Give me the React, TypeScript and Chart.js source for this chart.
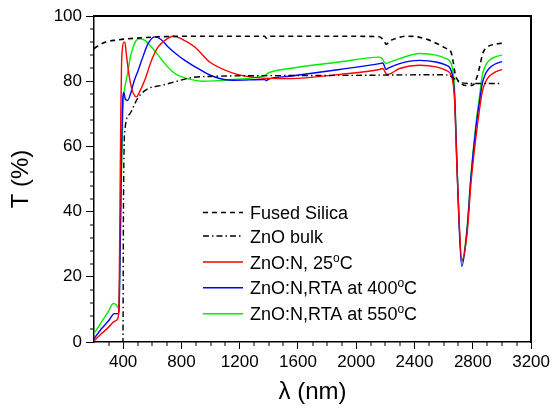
import React, { useEffect, useRef } from 'react';
import { Chart, registerables } from 'chart.js';
Chart.register(...registerables);

const FONT = "'Liberation Sans', Arial, sans-serif";

const xTicks = [400, 800, 1200, 1600, 2000, 2400, 2800, 3200];
const yTicks = [0, 20, 40, 60, 80, 100];
const xMinorTicks = [300, 500, 600, 700, 900, 1000, 1100, 1300, 1400, 1500, 1700, 1800, 1900, 2100, 2200, 2300, 2500, 2600, 2700, 2900, 3000, 3100];
const yMinorTicks = [4, 8, 12, 16, 24, 28, 32, 36, 44, 48, 52, 56, 64, 68, 72, 76, 84, 88, 92, 96];

const seriesLabels = ['Fused Silica', 'ZnO bulk', 'ZnO:N, 25°C', 'ZnO:N,RTA at 400°C', 'ZnO:N,RTA at 550°C'];

const silicaX = [200, 240, 280, 350, 430, 600, 800, 1000, 1370, 1383, 1396, 1800, 2150, 2190, 2205, 2230, 2280, 2340, 2420, 2500, 2560, 2620, 2650, 2665, 2680, 2708, 2754, 2800, 2830, 2850, 2868, 2900, 2950, 3000];
const silicaY = [90, 91.2, 92, 92.6, 93, 93.5, 93.8, 93.8, 93.8, 93.2, 93.8, 93.8, 93.7, 92.5, 91.3, 92.3, 93.2, 93.8, 93.6, 92.6, 91.4, 90, 89, 86, 82, 79.8, 78.7, 78.8, 81.5, 85, 88.5, 90.5, 91.3, 91.7];

const bulkX = [200, 399, 401, 405, 412, 446, 503, 571, 663, 754, 869, 1029, 1400, 2000, 2600, 2650, 2680, 2720, 2800, 3000];
const bulkY = [0, 0, 30, 55, 65, 70, 75, 77.7, 78.7, 79.8, 81.1, 81.5, 81.7, 81.8, 82, 81.5, 80.5, 79.5, 79.3, 79.3];

const redX = [200, 250, 300, 332, 355, 366, 372, 378, 384, 389, 395, 405, 412, 420, 440, 460, 480, 492, 510, 550, 595, 640, 686, 743, 800, 892, 994, 1154, 1314, 1543, 1886, 2159, 2182, 2205, 2216, 2297, 2434, 2548, 2617, 2651, 2674, 2690, 2705, 2725, 2760, 2788, 2822, 2845, 2866, 2890, 2913, 2950, 3000];
const redY = [0.3, 2.5, 4.5, 6.1, 6.7, 7.7, 12, 40, 70, 85, 90, 92, 92, 89, 82, 77.5, 75.5, 75.2, 76.5, 80.5, 86.4, 90.5, 92.5, 93.8, 93, 90.5, 85.9, 82.5, 81.1, 80.8, 82.1, 83.6, 83.9, 82.3, 82.1, 83.9, 84.9, 84.4, 83.3, 81.8, 75, 55, 38, 25, 33, 49, 63, 71, 77, 80, 81.5, 82.7, 83.6];

const blueX = [200, 250, 300, 340, 366, 372, 380, 388, 394, 398, 403, 407, 415, 430, 450, 475, 503, 540, 571, 617, 660, 709, 760, 823, 937, 1029, 1154, 1370, 1383, 1396, 1543, 1886, 2159, 2182, 2205, 2216, 2297, 2434, 2548, 2617, 2651, 2674, 2690, 2705, 2724, 2760, 2788, 2822, 2845, 2866, 2890, 2913, 2950, 3000];
const blueY = [1, 4, 6.5, 8.7, 8.7, 10, 30, 55, 70, 75, 76.5, 76.2, 74.5, 74.1, 76, 80, 83.3, 88, 91.5, 93.6, 92.8, 90.5, 88.5, 86.4, 83.3, 81.3, 80.3, 80.5, 80.2, 80.6, 81.5, 83.6, 85.4, 85.6, 83.6, 83.9, 85.4, 86.4, 85.9, 84.9, 83.3, 76, 56, 37, 23.2, 34, 51, 66, 73.5, 79.5, 82.5, 84, 85.2, 86];

const greenX = [200, 250, 300, 332, 355, 366, 372, 380, 390, 398, 405, 420, 434, 450, 469, 490, 515, 550, 595, 640, 686, 730, 777, 869, 950, 1029, 1154, 1370, 1383, 1400, 1543, 1886, 2159, 2171, 2205, 2216, 2297, 2434, 2548, 2617, 2651, 2674, 2690, 2705, 2724, 2760, 2788, 2822, 2845, 2866, 2890, 2913, 2950, 3000];
const greenY = [2.6, 6, 9.5, 11.8, 11.3, 10.5, 12, 30, 55, 70, 76, 80, 83.3, 87.5, 90.5, 92.5, 93, 92.5, 90.5, 88, 85.4, 83.3, 81.8, 80.5, 80, 80.1, 80.5, 81.8, 82.1, 82.6, 83.9, 85.9, 87.4, 87.2, 85.4, 85.6, 86.9, 88.5, 88, 86.9, 85.4, 78.2, 57, 38, 24.5, 35, 51.7, 67, 75, 82, 85, 86.4, 87.4, 88];

const pts = (xs: number[], ys: number[]) => xs.map((x, i) => ({ x, y: ys[i] }));

const decorPlugin = {
  id: 'decor',
  afterDraw(chart: any) {
    const ctx: CanvasRenderingContext2D = chart.ctx;
    const xs = chart.scales.x;
    const ys = chart.scales.y;
    const left = Math.round(ys.right);
    const top = Math.round(ys.top);
    const right = Math.round(xs.right);
    const bottom = Math.round(xs.top);
    ctx.save();
    // frame: top and right
    ctx.fillStyle = 'rgb(0,0,0)';
    ctx.fillRect(left, top - 1, right - left + 1, 2);
    ctx.fillRect(right - 1, top - 1, 2, bottom - top + 2);
    // minor ticks
    for (const v of xMinorTicks) {
      const px = Math.round(xs.getPixelForValue(v));
      ctx.fillRect(px - 0.5, bottom, 1, 4);
    }
    for (const v of yMinorTicks) {
      const py = Math.round(ys.getPixelForValue(v));
      ctx.fillRect(left - 4, py - 0.5, 4, 1);
    }
    // legend
    const rowOffsets = [196.5, 220, 246, 271.7, 297.7];
    const x0 = left + 109;
    const x1 = x0 + 40;
    const tx = x1 + 7;
    chart.data.datasets.forEach((ds: any, i: number) => {
      const yy = top + rowOffsets[i];
      ctx.strokeStyle = ds.borderColor;
      ctx.lineWidth = ds.borderWidth;
      ctx.setLineDash(ds.borderDash || []);
      ctx.beginPath();
      ctx.moveTo(x0, yy);
      ctx.lineTo(x1, yy);
      ctx.stroke();
      ctx.setLineDash([]);
      ctx.fillStyle = '#000';
      ctx.textBaseline = 'alphabetic';
      ctx.textAlign = 'left';
      const parts = String(ds.label).split('°');
      let cx = tx;
      ctx.font = `18px ${FONT}`;
      ctx.fillText(parts[0], cx, yy + 6.5);
      cx += ctx.measureText(parts[0]).width;
      if (parts.length > 1) {
        ctx.font = `12px ${FONT}`;
        ctx.fillText('o', cx, yy - 0.5);
        cx += ctx.measureText('o').width;
        ctx.font = `18px ${FONT}`;
        ctx.fillText(parts[1], cx, yy + 6.5);
      }
    });
    ctx.restore();
  },
};

export default function App() {
  const ref = useRef<HTMLCanvasElement>(null);
  useEffect(() => {
    document.body.style.margin = '0';
    const canvas = ref.current!;
    const common = { pointRadius: 0, showLine: true, fill: false, cubicInterpolationMode: 'monotone' as const };
    const chart = new Chart(canvas, {
      type: 'scatter',
      data: {
        datasets: [
          { ...common, label: seriesLabels[0], data: pts(silicaX, silicaY), borderColor: '#000', borderWidth: 1.6, borderDash: [5, 4] },
          { ...common, label: seriesLabels[1], data: pts(bulkX, bulkY), borderColor: '#000', borderWidth: 1.4, borderDash: [6, 3, 1.5, 3] },
          { ...common, label: seriesLabels[2], data: pts(redX, redY), borderColor: '#ff0000', borderWidth: 1.4 },
          { ...common, label: seriesLabels[3], data: pts(blueX, blueY), borderColor: '#0000ff', borderWidth: 1.4 },
          { ...common, label: seriesLabels[4], data: pts(greenX, greenY), borderColor: '#00ee00', borderWidth: 1.4 },
        ],
      },
      options: {
        animation: false,
        responsive: false,
        devicePixelRatio: 1,
        layout: { padding: { top: 16, right: 21, left: 0, bottom: 0 } },
        plugins: { legend: { display: false }, tooltip: { enabled: false } },
        scales: {
          x: {
            type: 'linear',
            min: 200,
            max: 3200,
            afterBuildTicks: (s: any) => { s.ticks = xTicks.map((v) => ({ value: v })); },
            afterFit: (s: any) => { s.height = 68; },
            ticks: { font: { family: FONT, size: 17 }, color: '#000', padding: 3, maxRotation: 0, autoSkip: false, callback: (v: any) => String(v) },
            grid: { drawOnChartArea: false, tickLength: 7, color: '#000', tickWidth: 1 },
            border: { display: true, color: '#000', width: 1.5 },
            title: { display: true, text: 'λ (nm)', font: { family: FONT, size: 24 }, color: '#000', padding: { top: 0, bottom: 3 } },
          },
          y: {
            type: 'linear',
            min: 0,
            max: 100,
            afterBuildTicks: (s: any) => { s.ticks = yTicks.map((v) => ({ value: v })); },
            afterFit: (s: any) => { s.width = 94; },
            ticks: { font: { family: FONT, size: 17 }, color: '#000', padding: 4, callback: (v: any) => String(v) },
            grid: { drawOnChartArea: false, tickLength: 8, color: '#000', tickWidth: 1 },
            border: { display: true, color: '#000', width: 1.5 },
            title: { display: true, text: 'T (%)', font: { family: FONT, size: 24 }, color: '#000', padding: { top: 7, bottom: 0 } },
          },
        },
      },
      plugins: [decorPlugin],
    });
    return () => chart.destroy();
  }, []);
  return <canvas ref={ref} width={553} height={410} style={{ display: 'block' }} />;
}
